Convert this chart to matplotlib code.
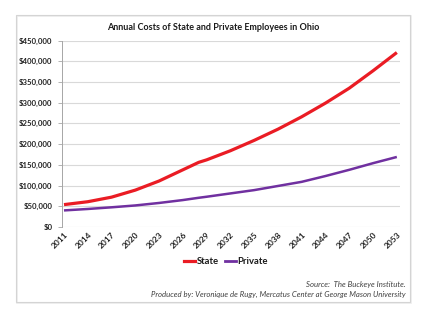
import matplotlib
matplotlib.use("Agg")
import matplotlib.pyplot as plt
from matplotlib.patches import Rectangle
from matplotlib.lines import Line2D
from matplotlib.ticker import FuncFormatter, MultipleLocator


YEARS = [2011, 2014, 2017, 2020, 2023, 2026, 2028, 2029, 2032, 2035,
         2038, 2041, 2044, 2047, 2050, 2053]
STATE_COST = [54000, 61000, 72000, 89000, 111000, 138000, 156000, 162000, 184000, 209000,
              236000, 266000, 299000, 335000, 377000, 421000]
PRIVATE_COST = [40000, 43500, 47500, 52000, 58000, 65000, 70500, 73000, 81000, 89000,
                99000, 109000, 123000, 138000, 154000, 169000]
TICK_YEARS = list(range(2011, 2054, 3))

TITLE = "Annual Costs of State and Private Employees in Ohio"
SOURCE_LINES = [
    "Source:  The Buckeye Institute.",
    "Produced by: Veronique de Rugy, Mercatus Center at George Mason University",
]

STATE_COLOR = "#ea1c24"
PRIVATE_COLOR = "#7030a0"
W, H = 425, 324


def dollars(value, _pos):
    return f"${value:,.0f}"


plt.rcParams["font.family"] = ["Lato", "DejaVu Sans"]

fig = plt.figure(figsize=(W / 100, H / 100), dpi=100)
fig.patch.set_facecolor("white")

# chart frame with a faint shadow
fig.patches.append(Rectangle((17 / W, 1 - 303 / H), 394 / W, 287 / H, transform=fig.transFigure,
                             fill=False, edgecolor="#ececec", linewidth=1.2, zorder=0))
fig.patches.append(Rectangle((16 / W, 1 - 302 / H), 394 / W, 287 / H, transform=fig.transFigure,
                             fill=False, edgecolor="#d4d4d4", linewidth=0.8, zorder=0))

ax = fig.add_axes([62 / W, 1 - 227 / H, 338 / W, 186.5 / H])
ax.plot(YEARS, STATE_COST, color=STATE_COLOR, linewidth=2.3, solid_capstyle="butt", zorder=3)
ax.plot(YEARS, PRIVATE_COST, color=PRIVATE_COLOR, linewidth=1.8, solid_capstyle="butt", zorder=3)

ax.set_xlim(2010.75, 2053.4)
ax.set_ylim(0, 450000)
ax.yaxis.set_major_locator(MultipleLocator(50000))
ax.yaxis.set_major_formatter(FuncFormatter(dollars))
ax.set_xticks(TICK_YEARS)
ax.set_xticklabels([str(y) for y in TICK_YEARS], rotation=45, ha="right",
                   rotation_mode="anchor", fontsize=6, fontweight="bold", color="#222222")
ax.tick_params(axis="x", length=0, pad=3)
ax.tick_params(axis="y", length=3, width=0.6, color="#a6a6a6", pad=4,
               labelsize=5.6, labelcolor="#222222")
for lab in ax.get_yticklabels():
    lab.set_fontweight("bold")

ax.grid(True, axis="y", color="#d9d9d9", linewidth=0.8)
ax.set_axisbelow(True)
for side in ["top", "right", "bottom"]:
    ax.spines[side].set_visible(False)
ax.spines["left"].set_color("#a6a6a6")
ax.spines["left"].set_linewidth(0.7)

fig.text(213 / W, 1 - 27 / H, TITLE, ha="center", va="center",
         fontsize=6.5, fontweight="bold", color="#1a1a1a")

handles = [
    Line2D([0], [0], color=STATE_COLOR, linewidth=2.3),
    Line2D([0], [0], color=PRIVATE_COLOR, linewidth=2.0),
]
fig.legend(handles, ["State", "Private"], loc="center", bbox_to_anchor=(226 / W, 1 - 262 / H),
           ncol=2, frameon=False, handlelength=1.15, handletextpad=0.15, columnspacing=0.7,
           prop={"size": 6.8, "weight": "bold"}, labelcolor="#1a1a1a")

for i, line in enumerate(SOURCE_LINES):
    fig.text(406 / W, 1 - (284 + 10 * i) / H, line, ha="right", va="center",
             fontsize=5.6, style="italic", color="#404040")

fig.savefig("out.png", dpi=100, facecolor="white")
